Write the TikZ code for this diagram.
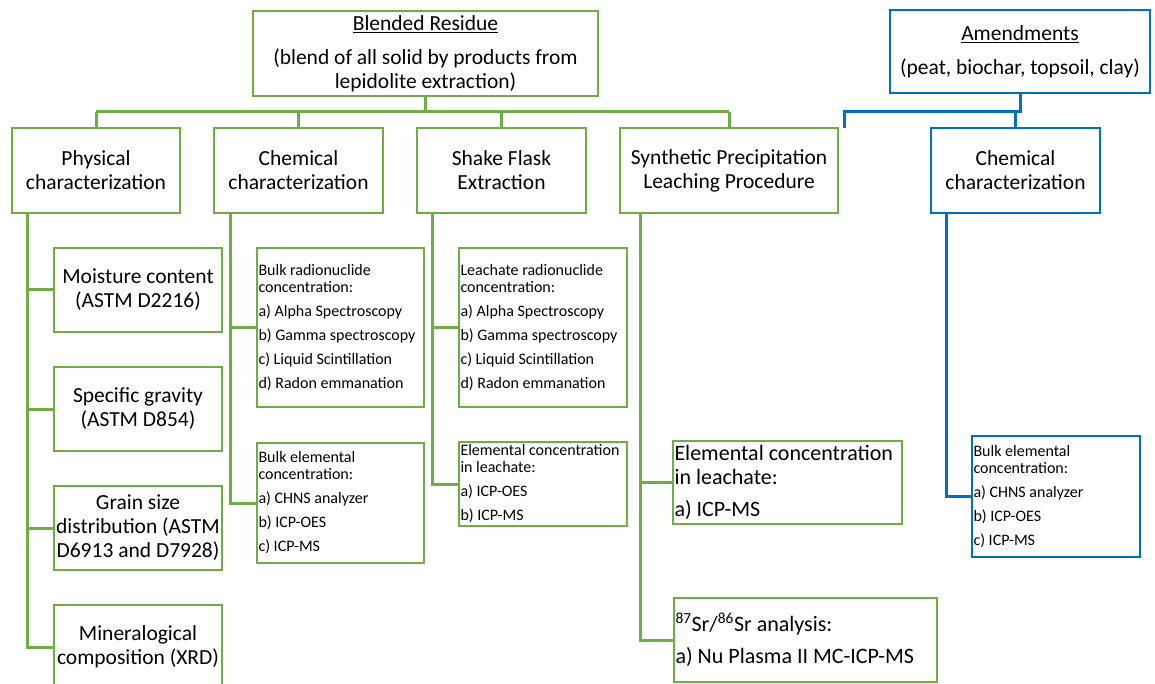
\documentclass[tikz,border=0pt]{standalone}
\usepackage{fontspec}
\setmainfont{Carlito}
\definecolor{gr}{HTML}{70AD47}
\definecolor{bl}{HTML}{0070C0}
\protected\def\natspace{\spaceskip=0pt\relax\xspaceskip=0pt\relax}
\tikzset{
 gbox/.style={draw=gr, line width=2.5pt, rectangle, inner sep=0pt, fill=white},
 bbox/.style={draw=bl, line width=2.5pt, rectangle, inner sep=0pt, fill=white},
 big/.style={font=\fontsize{21.5}{24}\selectfont, align=center},
 lbig/.style={font=\fontsize{22}{24}\selectfont, align=left, inner xsep=1.5pt},
 small/.style={font=\fontsize{16}{17}\selectfont, align=left, inner xsep=1.5pt},
 gconn/.style={draw=gr, line width=3pt},
 bconn/.style={draw=bl, line width=3pt},
}
\begin{document}
\begin{tikzpicture}[x=1pt,y=-1pt]
\useasboundingbox (0,0) rectangle (1155,684);
\clip (0,0) rectangle (1155,684);
% top level
\node[gbox, big, minimum width=345pt, minimum height=85pt] (blend) at (425.5,53.5)
  {\underline{Blended Residue}\\[10pt](blend of all solid by products from\\lepidolite extraction)};
\node[bbox, big, minimum width=260pt, minimum height=83pt] (amend) at (1020,51.5)
  {\underline{Amendments}\\[10pt](peat, biochar, topsoil, clay)};
% second level
\node[gbox, big, minimum width=168pt, minimum height=85pt] (phys) at (96,170.5) {Physical\\characterization};
\node[gbox, big, minimum width=169pt, minimum height=85pt] (chem) at (298.5,170.5) {Chemical\\characterization};
\node[gbox, big, minimum width=169pt, minimum height=85pt] (shake) at (501.5,170.5) {Shake Flask\\Extraction};
\node[gbox, big, minimum width=218pt, minimum height=85pt] (splp) at (729,170.5) {Synthetic Precipitation\\Leaching Procedure};
\node[bbox, big, minimum width=169pt, minimum height=85pt] (bchem) at (1015.5,170.5) {Chemical\\characterization};
% physical children
\node[gbox, big, minimum width=168pt, minimum height=84pt] (moist) at (138,290) {Moisture content\\(ASTM D2216)};
\node[gbox, big, minimum width=168pt, minimum height=84pt] (spg) at (138,409) {Specific gravity\\(ASTM D854)};
\node[gbox, big, minimum width=168pt, minimum height=84pt] (grain) at (138,528) {Grain size\\distribution (ASTM\\D6913 and D7928)};
\node[gbox, big, minimum width=168pt, minimum height=84pt] (mineral) at (138,647) {Mineralogical\\composition (XRD)};
% chemical children
\node[gbox, small, minimum width=167pt, minimum height=159pt, text width=164pt] (crad) at (340.5,327.5)
  {\natspace Bulk radionuclide\\concentration:\\[7pt]a) Alpha Spectroscopy\\[7pt]b) Gamma spectroscopy\\[7pt]c) Liquid Scintillation\\[7pt]d) Radon emmanation};
\node[gbox, small, minimum width=167pt, minimum height=120pt, text width=164pt] (celem) at (340.5,503)
  {\natspace Bulk elemental\\concentration:\\[7pt]a) CHNS analyzer\\[7pt]b) ICP-OES\\[7pt]c) ICP-MS};
% shake flask children
\node[gbox, small, minimum width=168pt, minimum height=159pt, text width=165pt] (lrad) at (543,327.5)
  {\natspace Leachate radionuclide\\concentration:\\[7pt]a) Alpha Spectroscopy\\[7pt]b) Gamma spectroscopy\\[7pt]c) Liquid Scintillation\\[7pt]d) Radon emmanation};
\node[gbox, small, minimum width=168pt, minimum height=84pt, text width=165pt] (lelem) at (543,484)
  {\natspace Elemental concentration\\in leachate:\\[7pt]a) ICP-OES\\[7pt]b) ICP-MS};
% SPLP children
\node[gbox, lbig, minimum width=229pt, minimum height=83pt, text width=226pt] (selem) at (787.5,482.5)
  {\natspace Elemental concentration\\in leachate:\\[8pt]a) ICP-MS};
\node[gbox, lbig, minimum width=263pt, minimum height=84pt, text width=260pt] (sr) at (805.5,640)
  {\natspace\textsuperscript{87}Sr/\textsuperscript{86}Sr analysis:\\[8pt]a) Nu Plasma II MC-ICP-MS};
% amendments child
\node[bbox, small, minimum width=168pt, minimum height=121pt, text width=165pt] (belem) at (1056,496.5)
  {\natspace Bulk elemental\\concentration:\\[7pt]a) CHNS analyzer\\[7pt]b) ICP-OES\\[7pt]c) ICP-MS};
% buses
\coordinate (bus) at (0,112);
\draw[gconn] (blend.south) -- (blend.south |- bus);
\draw[gconn] (phys.north |- bus) -- (splp.north |- bus);
\foreach \n in {phys,chem,shake,splp} \draw[gconn] (\n.north) -- (\n.north |- bus);
\coordinate (bj) at (844,128);
\draw[bconn] (amend.south) -- (amend.south |- bus) -| (bj);
\draw[bconn] (bchem.north) -- (bchem.north |- bus);
% stems
\coordinate (ps) at ([xshift=17pt]phys.south west);
\draw[gconn] (ps) |- (mineral.west);
\foreach \n in {moist,spg,grain} \draw[gconn] (\n.west) -- (\n.west -| ps);
\coordinate (cs) at ([xshift=18pt]chem.south west);
\draw[gconn] (cs) |- (celem.west);
\draw[gconn] (crad.west) -- (crad.west -| cs);
\coordinate (ss) at ([xshift=17pt]shake.south west);
\draw[gconn] (ss) |- (lelem.west);
\draw[gconn] (lrad.west) -- (lrad.west -| ss);
\coordinate (sps) at ([xshift=22pt]splp.south west);
\draw[gconn] (sps) |- (sr.west);
\draw[gconn] (selem.west) -- (selem.west -| sps);
\coordinate (bs) at ([xshift=17pt]bchem.south west);
\draw[bconn] (bs) |- (belem.west);
\end{tikzpicture}
\end{document}
